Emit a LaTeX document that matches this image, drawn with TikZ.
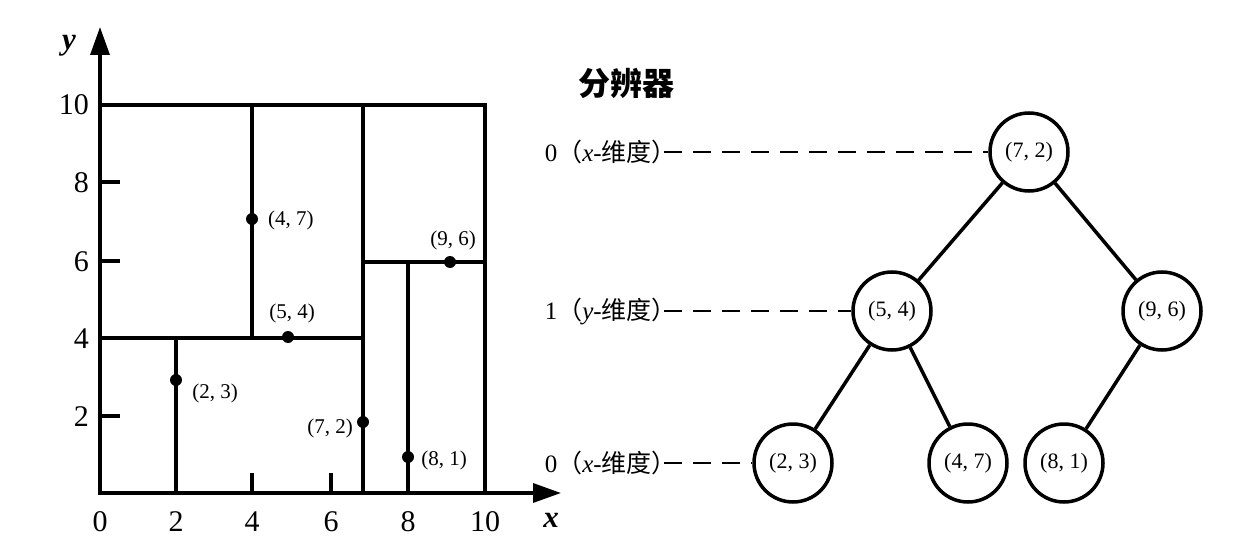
\documentclass[tikz,border=0pt]{standalone}
\usepackage{fontspec}
\setmainfont{Liberation Serif}
\newfontfamily\cjk{Noto Sans CJK SC}
\usetikzlibrary{arrows.meta}
\begin{document}
\begin{tikzpicture}[x=1pt,y=-1pt]
\tikzset{
 pl/.style={line width=3.5pt},
 axisarrow/.style={line width=3.5pt,-{Triangle[length=28pt,width=19pt]}},
 dot/.style={circle, fill=black, inner sep=0pt, minimum size=12pt},
 ptlab/.style={font=\fontsize{21}{23}\selectfont, inner sep=0pt},
 ticklab/.style={font=\fontsize{30}{32}\selectfont, inner sep=0pt},
 axlab/.style={font=\fontsize{31}{33}\selectfont\bfseries\itshape, inner sep=0pt},
 tnode/.style={circle, draw, line width=3.5pt, minimum size=78pt, inner sep=0pt, font=\fontsize{22}{24}\selectfont},
 edge/.style={line width=3.5pt},
 lvl/.style={font=\fontsize{25}{27}\selectfont, inner sep=0pt, anchor=east},
 dashln/.style={line width=2.8pt, dash pattern=on 18pt off 11pt},
 ttl/.style={font=\fontsize{32}{34}\selectfont\cjk\bfseries, inner sep=0pt},
}
\useasboundingbox (0,0) rectangle (1235,543);
% ---- plot ----
\draw[pl] (100,105) rectangle (485,493);
\draw[pl] (363,105) -- (363,493);
\draw[pl] (100,338) -- (363,338);
\draw[pl] (252,105) -- (252,338);
\draw[pl] (176,338) -- (176,493);
\draw[pl] (363,262) -- (485,262);
\draw[pl] (408,262) -- (408,493);
% ticks
\draw[pl] (100,416) -- (120,416);
\draw[pl] (100,261) -- (120,261);
\draw[pl] (100,182) -- (120,182);
\draw[pl] (252,493) -- (252,473);
\draw[pl] (331,493) -- (331,473);
% axes
\draw[axisarrow] (100,493) -- (100,27);
\draw[axisarrow] (100,493) -- (561,493);
\node[axlab] (ylab) at (69,46) {y};
\node[axlab] (xlab) at (551,520) {x};
% tick labels
\node[ticklab] (tx0) at (100,522) {0};
\node[ticklab] (tx2) at (176,522) {2};
\node[ticklab] (tx4) at (252,522) {4};
\node[ticklab] (tx6) at (331,522) {6};
\node[ticklab] (tx8) at (408,522) {8};
\node[ticklab] (tx10) at (485,522) {10};
\node[ticklab,anchor=east] (ty10) at (89,105) {10};
\node[ticklab,anchor=east] (ty8) at (89,183) {8};
\node[ticklab,anchor=east] (ty6) at (89,262) {6};
\node[ticklab,anchor=east] (ty4) at (89,339) {4};
\node[ticklab,anchor=east] (ty2) at (89,417) {2};
% points
\node[dot] (p23) at (176,380) {};
\node[dot] (p47) at (252,219) {};
\node[dot] (p54) at (288,337) {};
\node[dot] (p72) at (363,422) {};
\node[dot] (p81) at (408,457) {};
\node[dot] (p96) at (450,262) {};
\node[ptlab] (l23) at (215,393) {(2, 3)};
\node[ptlab,anchor=west] (l47) at (268,220) {(4, 7)};
\node[ptlab] (l54) at (292,313) {(5, 4)};
\node[ptlab] (l72) at (330,428) {(7, 2)};
\node[ptlab] (l81) at (444,460) {(8, 1)};
\node[ptlab] (l96) at (453,240) {(9, 6)};
% ---- tree ----
\node[ttl] (title) at (626,83) {分辨器};
\node[tnode] (n72) at (1029,152) {(7, 2)};
\node[tnode] (n54) at (892,311) {(5, 4)};
\node[tnode] (n96) at (1162,311) {(9, 6)};
\node[tnode] (n23) at (793,463) {(2, 3)};
\node[tnode] (n47) at (968,463) {(4, 7)};
\node[tnode] (n81) at (1064,463) {(8, 1)};
\draw[edge] (n72) -- (n54);
\draw[edge] (n72) -- (n96);
\draw[edge] (n54) -- (n23);
\draw[edge] (n54) -- (n47);
\draw[edge] (n96) -- (n81);
\node[lvl] (L0) at (664,152) {0{\cjk （}\textit{x}-{\cjk 维度）}\kern-13pt};
\node[lvl] (L1) at (664,311) {1{\cjk （}\textit{y}-{\cjk 维度）}\kern-13pt};
\node[lvl] (L2) at (664,463) {0{\cjk （}\textit{x}-{\cjk 维度）}\kern-13pt};
\draw[dashln] (L0.east) -- (L0.east -| n72.west);
\draw[dashln] (L1.east) -- (L1.east -| n54.west);
\draw[dashln] (L2.east) -- (L2.east -| n23.west);
\end{tikzpicture}
\end{document}
